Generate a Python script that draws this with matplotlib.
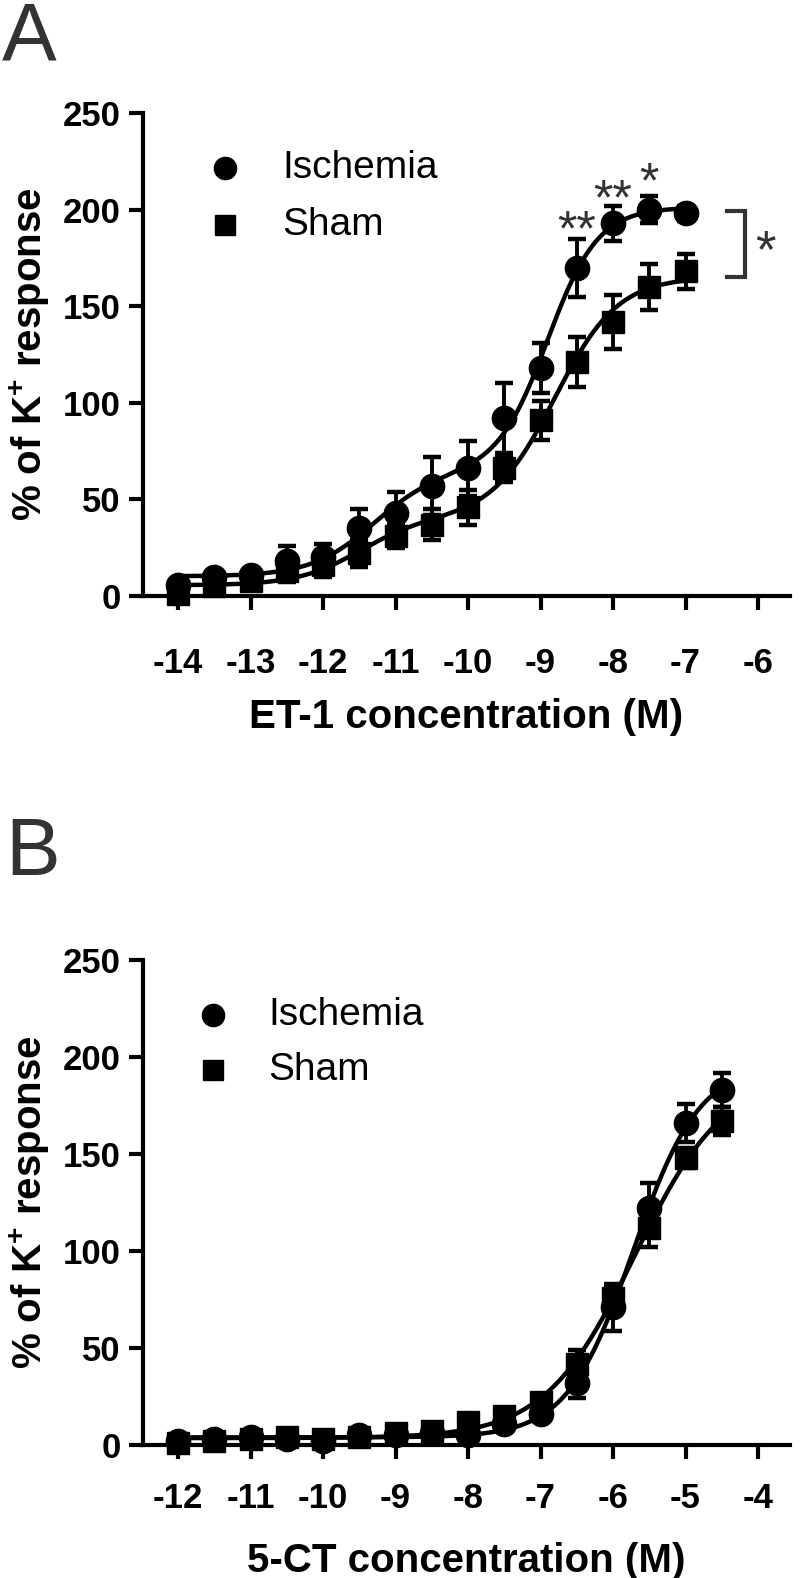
import numpy as np
import matplotlib
matplotlib.use("Agg")
import matplotlib.pyplot as plt
from matplotlib import font_manager

plt.rcParams['font.family'] = ['Liberation Sans', 'DejaVu Sans']
plt.rcParams['mathtext.fontset'] = 'custom'
plt.rcParams['mathtext.rm'] = 'Liberation Sans:bold'
plt.rcParams['mathtext.bf'] = 'Liberation Sans:bold'

_names = {f.name for f in font_manager.fontManager.ttflist}
NARROW = 'Liberation Sans Narrow' if 'Liberation Sans Narrow' in _names else 'Liberation Sans'
HAVE_NARROW = NARROW == 'Liberation Sans Narrow'

# ---------------- data ----------------
series_labels = ["Ischemia", "Sham"]

a_x = [-14, -13.5, -13, -12.5, -12, -11.5, -11, -10.5, -10, -9.5, -9, -8.5, -8, -7.5, -7]
a_isch = [5.5, 10, 11, 18, 20, 35, 43, 57, 66, 92, 118, 170, 193, 200, 198]
a_isch_err = [3, 3, 3, 8, 7, 10, 11, 15, 14, 18, 13, 15, 9, 7, 4]
a_sham = [1, 5, 8, 13, 16, 22, 31, 37, 46, 66, 91, 121, 142, 160, 168]
a_sham_err = [4, 3, 3, 6, 6, 7, 6, 8, 9, 7, 10, 13, 14, 12, 9]

b_x = [-12, -11.5, -11, -10.5, -10, -9.5, -9, -8.5, -8, -7.5, -7, -6.5, -6, -5.5, -5, -4.5]
b_isch = [2, 3, 4, 3, 2, 5, 5, 6, 5, 11, 16, 32, 71, 122, 166, 183]
b_isch_err = [2, 2, 2, 2, 2, 2, 2, 2, 3, 3, 3, 8, 12, 13, 10, 9]
b_sham = [1, 2, 3, 4, 3, 4, 6, 7, 12, 15, 22, 42, 76, 112, 148, 167]
b_sham_err = [2, 2, 2, 2, 2, 2, 2, 2, 4, 3, 3, 7, 5, 10, 5, 7]

a_xticks = [-14, -13, -12, -11, -10, -9, -8, -7, -6]
b_xticks = [-12, -11, -10, -9, -8, -7, -6, -5, -4]
yticks = [0, 50, 100, 150, 200, 250]

a_xlabel = "ET-1 concentration (M)"
b_xlabel = "5-CT concentration (M)"
ylabel = "% of K$^{+}$ response"

# significance marks (panel A): x position, mark
sig_x = [-8.5, -8, -7.5]
sig_marks = ["**", "**", "*"]


# ---------------- curve fits (like the original nonlinear regressions) ----------------
def logistic(x, c, h):
    return 1.0 / (1.0 + 10 ** ((c - x) * h))


def fit_biphasic(x, y):
    x = np.asarray(x, float); y = np.asarray(y, float)
    best = None
    for c1 in np.arange(-13.5, -9.49, 0.05):
        g1 = logistic(x, c1, 1.0)
        for c2 in np.arange(-10.0, -7.49, 0.05):
            if c2 < c1 + 0.5:
                continue
            for h2 in (1.0, 1.25, 1.5, 2.0):
                g2 = logistic(x, c2, h2)
                M = np.column_stack([np.ones_like(x), g1, g2])
                coef = np.linalg.lstsq(M, y, rcond=None)[0]
                sse = np.sum((M @ coef - y) ** 2)
                if best is None or sse < best[0]:
                    best = (sse, c1, c2, h2, coef)
    _, c1, c2, h2, coef = best
    return lambda xx: coef[0] + coef[1] * logistic(xx, c1, 1.0) + coef[2] * logistic(xx, c2, h2)


def fit_4pl(x, y):
    x = np.asarray(x, float); y = np.asarray(y, float)
    best = None
    for c in np.arange(-7.5, -4.0, 0.02):
        for h in np.arange(0.5, 2.01, 0.05):
            g = logistic(x, c, h)
            M = np.column_stack([np.ones_like(x), g])
            coef = np.linalg.lstsq(M, y, rcond=None)[0]
            sse = np.sum((M @ coef - y) ** 2)
            if best is None or sse < best[0]:
                best = (sse, c, h, coef)
    _, c, h, coef = best
    return lambda xx: coef[0] + coef[1] * logistic(xx, c, h)


# ---------------- figure ----------------
W, H = 800, 1578
fig = plt.figure(figsize=(W / 100, H / 100), dpi=100)

def px_axes(left, top, right, bottom):
    return fig.add_axes([left / W, 1 - bottom / H, (right - left) / W, (bottom - top) / H])

boxA = (143, 113, 790, 596)
boxB = (143, 960, 790, 1445)
axA = px_axes(*boxA)
axB = px_axes(*boxB)

LW_SPINE = 3.0
grey = "#333333"

XT_SIZE = 29 if HAVE_NARROW else 25
XL_SIZE = 34 if HAVE_NARROW else 29


def style_axis(ax, xticks, xlim, xlabel, xpad, lpad):
    ax.set_xlim(*xlim)
    ax.set_ylim(0, 250)
    for s in ("top", "right"):
        ax.spines[s].set_visible(False)
    for s in ("left", "bottom"):
        ax.spines[s].set_linewidth(LW_SPINE)
    ax.set_xticks(xticks)
    ax.set_xticklabels([str(t) for t in xticks])
    ax.set_yticks(yticks)
    ax.set_yticklabels([str(t) for t in yticks])
    ax.tick_params(axis="both", length=10, width=LW_SPINE, color="black")
    ax.tick_params(axis="y", pad=6, labelsize=25)
    ax.tick_params(axis="x", pad=xpad, labelsize=XT_SIZE)
    for lab in ax.get_yticklabels():
        lab.set_fontweight("bold")
    for lab in ax.get_xticklabels():
        lab.set_fontweight("bold")
        lab.set_family([NARROW, 'Liberation Sans'])
    ax.set_xlabel(xlabel, fontsize=XL_SIZE, fontweight="bold", labelpad=lpad,
                  family=[NARROW, 'Liberation Sans'])
    ax.set_ylabel(ylabel, fontsize=29, fontweight="bold", labelpad=8)


def draw_series(ax, x, y, err, marker, ms, fitfun):
    xx = np.linspace(min(x), max(x), 400)
    ax.plot(xx, fitfun(xx), color="black", lw=3.2, clip_on=False, zorder=3)
    ax.errorbar(x, y, yerr=err, fmt="none", ecolor="black", elinewidth=2.8,
                capsize=6.5, capthick=3.2, clip_on=False, zorder=4)
    ax.plot(x, y, linestyle="none", marker=marker, ms=ms, color="black",
            clip_on=False, zorder=5)


def draw_legend(ax, mx, ys, tx):
    markers = [("o", 16), ("s", 14.5)]
    for (m, ms), yy, lab in zip(markers, ys, series_labels):
        ax.plot([mx], [yy], linestyle="none", marker=m, ms=ms, color="black",
                transform=ax.transAxes, clip_on=False)
        ax.text(tx, yy, lab, transform=ax.transAxes, fontsize=28, va="center", ha="left")


def ax_frac(ax_box, px, py):
    left, top, right, bottom = ax_box
    return (px - left) / (right - left), (bottom - py) / (bottom - top)

# ---- Panel A ----
style_axis(axA, a_xticks, (-14.483, -5.559), a_xlabel, 27, 13)
draw_series(axA, a_x, a_sham, a_sham_err, "s", 16, fit_biphasic(a_x, a_sham))
draw_series(axA, a_x, a_isch, a_isch_err, "o", 17.5, fit_biphasic(a_x, a_isch))
mx, my1 = ax_frac(boxA, 225, 168)
_, my2 = ax_frac(boxA, 225, 225)
tx, _ = ax_frac(boxA, 282, 168)
draw_legend(axA, mx, [my1, my2], tx)

# significance stars above points
sig_y = {-8.5: 181.5, -8: 197.5, -7.5: 206.5}
for sx, mark in zip(sig_x, sig_marks):
    axA.text(sx, sig_y[sx], mark, ha="center", va="baseline", fontsize=36, color=grey)

# bracket between the two curves' plateaus
axA.plot([-6.43, -6.18, -6.18, -6.43], [199.5, 199.5, 165, 165], color=grey, lw=3.0,
         clip_on=False, solid_joinstyle="miter")
axA.text(-5.9, 170, "*", ha="center", va="baseline", fontsize=38, color=grey)

# ---- Panel B ----
style_axis(axB, b_xticks, (-12.483, -3.559), b_xlabel, 17, 19)
draw_series(axB, b_x, b_sham, b_sham_err, "s", 16, fit_4pl(b_x, b_sham))
draw_series(axB, b_x, b_isch, b_isch_err, "o", 17.5, fit_4pl(b_x, b_isch))
mx, my1 = ax_frac(boxB, 213, 1015)
_, my2 = ax_frac(boxB, 213, 1070)
tx, _ = ax_frac(boxB, 268, 1015)
draw_legend(axB, mx, [my1, my2], tx)

# panel letters
fig.text(2 / W, 1 - 1 / H, "A", fontsize=59, color=grey, ha="left", va="top")
fig.text(5 / W, 1 - 816 / H, "B", fontsize=59, color=grey, ha="left", va="top")

fig.savefig("out.png", dpi=100)
